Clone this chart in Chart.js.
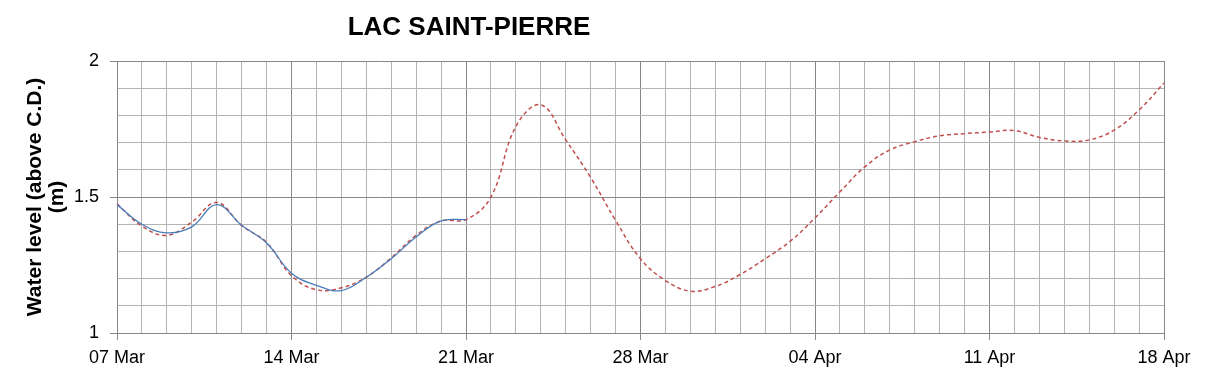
<!DOCTYPE html>
<html>
<head>
<meta charset="utf-8">
<script src="https://cdn.jsdelivr.net/npm/chart.js@4"></script>
<style>
  html, body { margin: 0; padding: 0; background: #fff; }
  #wrap { width: 1209px; height: 378px; }
</style>
</head>
<body>
<div id="wrap"><canvas id="chart" width="1209" height="378"></canvas></div>
<script>
var chartTitle = "LAC SAINT-PIERRE";
var yAxisTitle = ["Water level (above C.D.)", "(m)"];

var dates = [
  "07 Mar", "08 Mar", "09 Mar", "10 Mar", "11 Mar", "12 Mar", "13 Mar",
  "14 Mar", "15 Mar", "16 Mar", "17 Mar", "18 Mar", "19 Mar", "20 Mar",
  "21 Mar", "22 Mar", "23 Mar", "24 Mar", "25 Mar", "26 Mar", "27 Mar",
  "28 Mar", "29 Mar", "30 Mar", "31 Mar", "01 Apr", "02 Apr", "03 Apr",
  "04 Apr", "05 Apr", "06 Apr", "07 Apr", "08 Apr", "09 Apr", "10 Apr",
  "11 Apr", "12 Apr", "13 Apr", "14 Apr", "15 Apr", "16 Apr", "17 Apr",
  "18 Apr"
];

// days with a labelled (darker) grid line
var labelledDates = ["07 Mar", "14 Mar", "21 Mar", "28 Mar", "04 Apr", "11 Apr", "18 Apr"];
var yLabels = [1, 1.5, 2];

var observed = [1.472, 1.400, 1.368, 1.390, 1.472, 1.396, 1.331, 1.220, 1.175, 1.156,
  1.205, 1.273, 1.353, 1.412, 1.417];

var predicted = [1.475, 1.393, 1.359, 1.408, 1.480, 1.395, 1.333, 1.211, 1.159, 1.166,
  1.205, 1.276, 1.359, 1.412, 1.417, 1.500, 1.759, 1.839, 1.710, 1.572,
  1.414, 1.273, 1.193, 1.154, 1.171, 1.215, 1.273, 1.337, 1.423, 1.519,
  1.611, 1.673, 1.703, 1.725, 1.733, 1.739, 1.744, 1.719, 1.706, 1.710,
  1.746, 1.820, 1.919];

var FONT = "'Liberation Sans', Arial, sans-serif";
var minorGrid = "#b4b4b4";
var majorGrid = "#878787";

function isMajorY(v) {
  return yLabels.some(function (l) { return Math.abs(l - v) < 1e-6; });
}

// chart title sits off-centre in the original, so draw both titles here
var titlePlugin = {
  id: "fixedTitles",
  afterDraw: function (chart) {
    var ctx = chart.ctx;
    var area = chart.chartArea;
    ctx.save();
    ctx.fillStyle = "#000";
    ctx.textAlign = "center";
    ctx.textBaseline = "middle";
    ctx.font = "bold 26px " + FONT;
    ctx.fillText(chartTitle, 469, 28);

    ctx.font = "bold 21px " + FONT;
    ctx.translate(35, (area.top + area.bottom) / 2);
    ctx.rotate(-Math.PI / 2);
    ctx.fillText(yAxisTitle[0], 0, 0);
    ctx.fillText(yAxisTitle[1], 0, 22);
    ctx.restore();
  }
};

new Chart(document.getElementById("chart"), {
  type: "line",
  data: {
    labels: dates,
    datasets: [{
      label: "Observed",
      data: observed,
      borderColor: "#4a7ebb",
      borderWidth: 1.3,
      pointRadius: 0,
      tension: 0.4,
      fill: false
    }, {
      label: "Predicted",
      data: predicted,
      borderColor: "#c0504d",
      borderWidth: 1.5,
      borderDash: [4, 3],
      pointRadius: 0,
      tension: 0.4,
      fill: false
    }]
  },
  options: {
    responsive: false,
    animation: false,
    layout: { padding: { top: 61, right: 45, bottom: 0, left: 0 } },
    plugins: {
      legend: { display: false },
      tooltip: { enabled: false }
    },
    scales: {
      x: {
        type: "category",
        offset: false,
        afterFit: function (scale) { scale.height = 45; },
        border: { color: majorGrid, width: 1 },
        grid: {
          color: function (c) {
            return labelledDates.indexOf(dates[c.index]) >= 0 ? majorGrid : minorGrid;
          },
          tickColor: function (c) {
            return labelledDates.indexOf(dates[c.index]) >= 0 ? majorGrid : "rgba(0,0,0,0)";
          },
          tickLength: 7,
          lineWidth: 1
        },
        ticks: {
          autoSkip: false,
          maxRotation: 0,
          padding: 7,
          color: "#000",
          font: { family: FONT, size: 18 },
          callback: function (v, i) {
            return labelledDates.indexOf(dates[i]) >= 0 ? dates[i] : "";
          }
        }
      },
      y: {
        min: 1,
        max: 2,
        afterFit: function (scale) { scale.width = 117; },
        border: { color: majorGrid, width: 1 },
        grid: {
          color: function (c) { return isMajorY(c.tick.value) ? majorGrid : minorGrid; },
          tickColor: function (c) { return isMajorY(c.tick.value) ? majorGrid : "rgba(0,0,0,0)"; },
          tickLength: 7,
          lineWidth: 1
        },
        ticks: {
          stepSize: 0.1,
          padding: 11,
          color: "#000",
          font: { family: FONT, size: 18 },
          callback: function (v) { return isMajorY(v) ? String(Math.round(v * 10) / 10) : ""; }
        }
      }
    }
  },
  plugins: [titlePlugin]
});
</script>
</body>
</html>
